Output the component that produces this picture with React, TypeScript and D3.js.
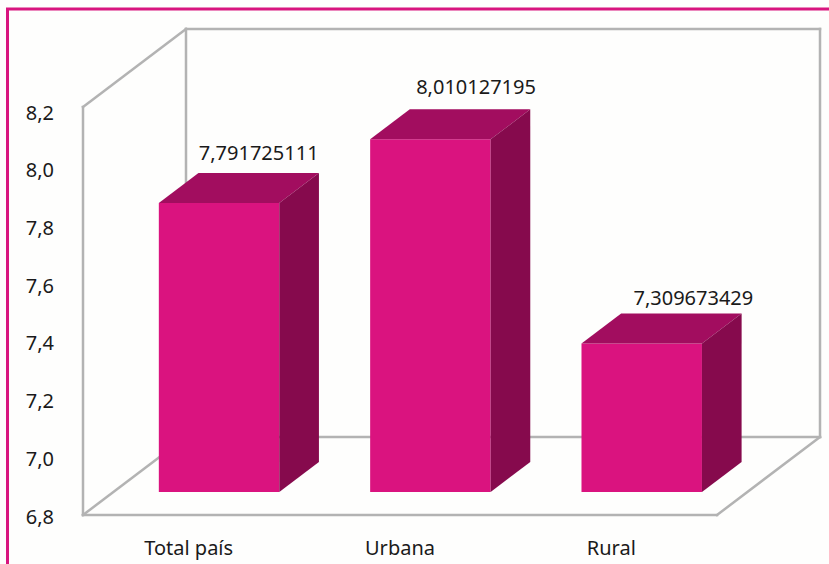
import React from "react";
import * as d3 from "d3";

const categories = ["Total país", "Urbana", "Rural"];
const values = [7.791725111, 8.010127195, 7.309673429];
const valueLabels = ["7,791725111", "8,010127195", "7,309673429"];
const yTicks = [6.8, 7.0, 7.2, 7.4, 7.6, 7.8, 8.0, 8.2];

const W = 829;
const H = 564;
const DX = 103; // full depth offset x
const DY = 78; // full depth offset y
const D0 = 0.295; // bar front depth
const D1 = 0.68; // bar back depth
const FONT = "'Noto Sans', 'Open Sans', sans-serif";

export default function App() {
  const x = d3
    .scaleBand<string>()
    .domain(categories)
    .range([83, 717])
    .paddingInner(0.43)
    .paddingOuter(0.215);
  const y = d3.scaleLinear().domain([6.8, 8.2]).range([515, 107]);
  const yLab = d3.scaleLinear().domain([6.8, 8.2]).range([516, 112]);
  const yVal = d3.scaleLinear().domain([6.8, 8.2]).range([458, 37]);

  const P = (px: number, v: number, d: number): [number, number] => [
    px + d * DX,
    y(v) - d * DY,
  ];
  const poly = (pts: [number, number][]) => pts.map((p) => p.join(",")).join(" ");

  const [x0, x1] = x.range();
  const [vMin, vMax] = y.domain();
  const wallLines: [[number, number], [number, number]][] = [
    [P(x0, vMax, 0), P(x0, vMin, 0)],
    [P(x0, vMax, 0), P(x0, vMax, 1)],
    [P(x0, vMax, 1), P(x0, vMin, 1)],
    [P(x0, vMax, 1), P(x1, vMax, 1)],
    [P(x1, vMax, 1), P(x1, vMin, 1)],
    [P(x0, vMin, 1), P(x1, vMin, 1)],
    [P(x0, vMin, 0), P(x0, vMin, 1)],
    [P(x0, vMin, 0), P(x1, vMin, 0)],
    [P(x1, vMin, 0), P(x1, vMin, 1)],
  ];

  return (
    <svg
      width={W}
      height={H}
      style={{ position: "absolute", left: 0, top: 0, background: "#fefefe" }}
      fontFamily={FONT}
    >
      <rect x={0} y={0} width={W} height={H} fill="#fefefd" />
      {/* pink frame */}
      <line x1={6} y1={9} x2={W} y2={9} stroke="#d8157f" strokeWidth={3} />
      <line x1={7.5} y1={8} x2={7.5} y2={H} stroke="#d8157f" strokeWidth={3} />

      {/* walls & floor */}
      <g stroke="#b3b3b3" strokeWidth={2.5} strokeLinecap="square">
        {wallLines.map(([a, b], i) => (
          <line key={i} x1={a[0]} y1={a[1]} x2={b[0]} y2={b[1]} />
        ))}
      </g>

      {/* y tick labels */}
      <g fontSize={20} fill="#1a1a1a" textAnchor="end">
        {yTicks.map((t) => (
          <text key={t} x={54} y={yLab(t)} dominantBaseline="central">
            {t.toFixed(1).replace(".", ",")}
          </text>
        ))}
      </g>

      {/* bars */}
      {categories.map((c, i) => {
        const bx0 = x(c)!;
        const bx1 = bx0 + x.bandwidth();
        const v = values[i];
        const front = [P(bx0, v, D0), P(bx1, v, D0), P(bx1, vMin, D0), P(bx0, vMin, D0)];
        const top = [P(bx0, v, D0), P(bx0, v, D1), P(bx1, v, D1), P(bx1, v, D0)];
        const side = [P(bx1, v, D0), P(bx1, v, D1), P(bx1, vMin, D1), P(bx1, vMin, D0)];
        const backTop = P(bx0 + x.bandwidth() / 2, v, D1);
        return (
          <g key={c}>
            <polygon points={poly(front)} fill="#da137f" />
            <polygon points={poly(top)} fill="#a20d5f" />
            <polygon points={poly(side)} fill="#860a4d" />
            <text
              x={backTop[0] + i * 6}
              y={yVal(v)}
              textAnchor="middle"
              fontSize={20}
              fill="#1a1a1a"
            >
              {valueLabels[i]}
            </text>
          </g>
        );
      })}

      {/* category labels */}
      <g fontSize={20} fill="#1a1a1a" textAnchor="middle">
        {categories.map((c) => (
          <text key={c} x={x(c)! + x.bandwidth() / 2} y={555}>
            {c}
          </text>
        ))}
      </g>
    </svg>
  );
}
